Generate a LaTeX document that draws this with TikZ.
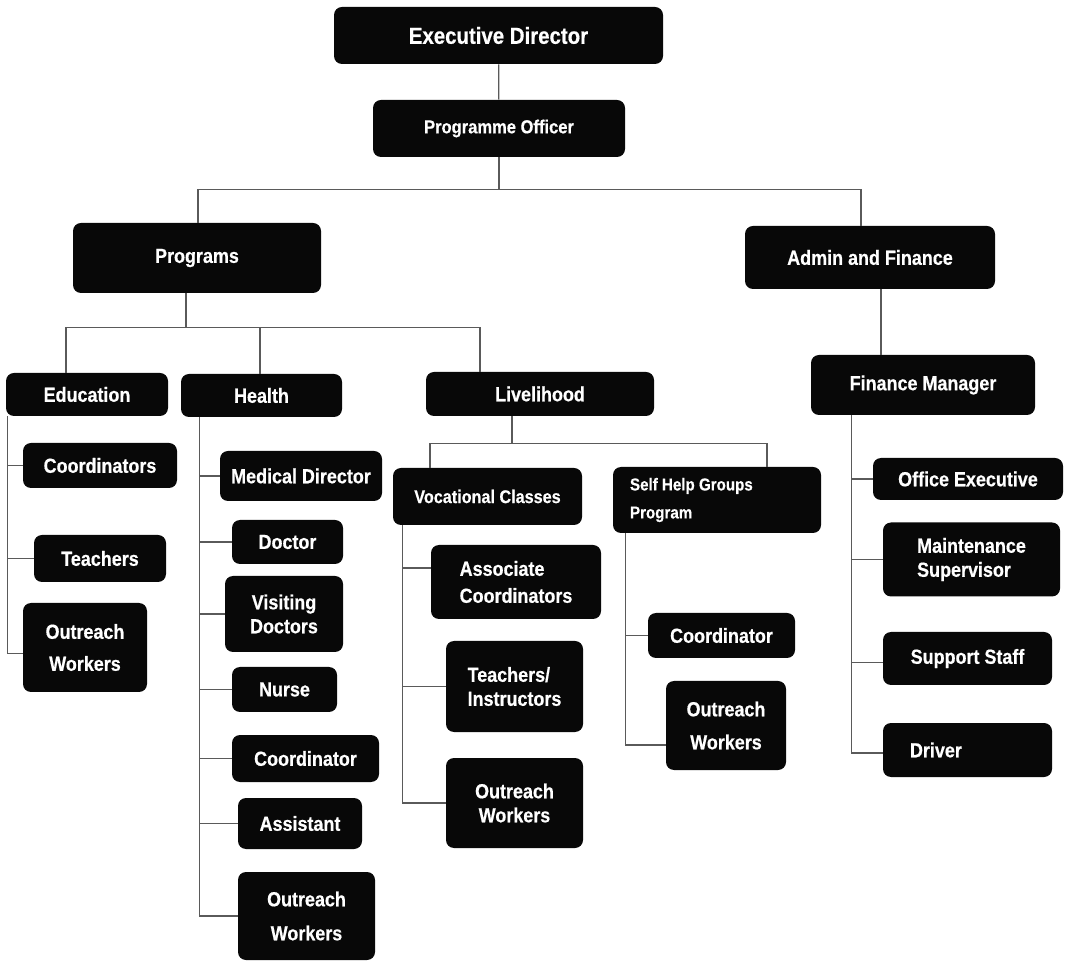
\documentclass[tikz,border=0pt]{standalone}
\usepackage{fontspec}
\setmainfont[FakeStretch=0.88, BoldFeatures={FakeBold=0.5}]{Liberation Sans}
\definecolor{orgBox}{HTML}{080808}
\definecolor{orgLine}{HTML}{5A5A5A}
\usepackage{tikz}
\usetikzlibrary{calc,positioning}

\begin{document}
\begin{tikzpicture}[x=0.5pt, y=-0.5pt,
    orgbox/.style={fill=orgBox, text=white, rounded corners=4pt, inner sep=2pt,
      font=\bfseries\fontsize{10.2}{12}\selectfont, align=center},
    leading/.style={font=\bfseries\fontsize{10.2}{#1}\selectfont},
    orgline/.style={draw=orgLine, line width=0.6pt}]
  \useasboundingbox (0,0) rectangle (1065,961);

  % Top of the chart
  \node[orgbox, minimum width=164.5pt, minimum height=28.5pt,
    font=\bfseries\fontsize{11.6}{14}\selectfont] (exec) at (498.5,35.5) {Executive Director};
  \node[orgbox, minimum width=126pt, minimum height=28.5pt,
    font=\bfseries\fontsize{9.4}{12}\selectfont] (progOff) at (499,128.5) {Programme Officer};

  % Second level
  \node[orgbox, minimum width=124pt, minimum height=35pt] (programs) at (197,258) {Programs};
  \node[orgbox, minimum width=125pt, minimum height=31.5pt] (admin) at (870,257.5) {Admin and Finance};

  % Programs branches
  \node[orgbox, minimum width=81pt, minimum height=21.5pt] (education) at (87,394.5) {Education};
  \node[orgbox, minimum width=80.5pt, minimum height=21.5pt] (health) at (261.5,395.5) {Health};
  \node[orgbox, minimum width=114pt, minimum height=22pt] (livelihood) at (540,394) {Livelihood};

  % Education staff
  \node[orgbox, minimum width=77pt, minimum height=22.5pt] (eduCoord) at (100,465.5) {Coordinators};
  \node[orgbox, minimum width=66pt, minimum height=23.5pt] (eduTeach) at (100,558.5) {Teachers};
  \node[orgbox, leading=16, minimum width=62pt, minimum height=44.5pt] (eduOutreach) at (85,647.5) {Outreach\\Workers};

  % Health staff
  \node[orgbox, minimum width=81pt, minimum height=25pt] (medDir) at (301,476) {Medical Director};
  \node[orgbox, minimum width=55.5pt, minimum height=22pt] (doctor) at (287.5,542) {Doctor};
  \node[orgbox, leading=12, minimum width=59pt, minimum height=38pt] (visiting) at (284,614) {Visiting\\Doctors};
  \node[orgbox, minimum width=52.5pt, minimum height=22.5pt] (nurse) at (284.5,689.5) {Nurse};
  \node[orgbox, minimum width=73.5pt, minimum height=23.5pt] (hCoord) at (305.5,758.5) {Coordinator};
  \node[orgbox, minimum width=62pt, minimum height=25.5pt] (assistant) at (300,823.5) {Assistant};
  \node[orgbox, leading=17, minimum width=68.5pt, minimum height=44pt] (hOutreach) at (306.5,916) {Outreach\\Workers};

  % Livelihood units
  \node[orgbox, minimum width=94.5pt, minimum height=28.5pt,
    font=\bfseries\fontsize{9.2}{12}\selectfont] (vocational) at (487.5,496.5) {Vocational Classes};
  \node[orgbox, font=\bfseries\fontsize{8.6}{14}\selectfont, align=flush left,
    inner xsep=8.5pt, text width=87pt, minimum height=33pt] (selfHelp) at (717,500) {Self Help Groups\\Program};

  % Vocational staff
  \node[orgbox, leading=13.5, align=flush left, minimum width=85pt, minimum height=37pt] (assocCoord) at (516,582) {Associate\\Coordinators};
  \node[orgbox, leading=12, align=flush left, minimum width=68.5pt, minimum height=45.5pt] (teachInstr) at (514.5,686.5) {Teachers/\\Instructors};
  \node[orgbox, leading=12, minimum width=68.5pt, minimum height=45pt] (lOutreach) at (514.5,803) {Outreach\\Workers};

  % Self help staff
  \node[orgbox, minimum width=73.5pt, minimum height=22.5pt] (shCoord) at (721.5,635.5) {Coordinator};
  \node[orgbox, leading=16.5, minimum width=60pt, minimum height=44.5pt] (shOutreach) at (726,725.5) {Outreach\\Workers};

  % Admin and finance staff
  \node[orgbox, minimum width=112pt, minimum height=30pt] (finMgr) at (923,385) {Finance Manager};
  \node[orgbox, minimum width=95pt, minimum height=21pt] (officeExec) at (968,479) {Office Executive};
  \node[orgbox, leading=12, align=flush left, minimum width=88.5pt, minimum height=37pt] (maint) at (971.5,559.5) {Maintenance\\Supervisor};
  \node[orgbox, minimum width=84.5pt, minimum height=26.5pt] (support) at (967.5,658.5) {Support Staff};
  \node[orgbox, align=flush left, inner xsep=13.5pt, text width=57.5pt, minimum height=27pt] (driver) at (967.5,750) {Driver};

  % Connectors at the top
  \draw[orgline] (exec) -- (progOff);
  \draw[orgline] (progOff.south) -- ++(0,32) coordinate (forkTop);
  \draw[orgline] ([xshift=0.5pt]programs.north) |- (forkTop) -| ([xshift=-4.5pt]admin.north);

  % Programs fork
  \draw[orgline] ([xshift=-5.5pt]programs.south) -- ++(0,34) coordinate (forkProg);
  \draw[orgline] ([xshift=-10.5pt]education.north) |- (forkProg) -| ([xshift=-30pt]livelihood.north);
  \draw[orgline] ([xshift=-0.75pt]health.north) -- ([xshift=-0.75pt]health.north |- forkProg);

  % Livelihood fork
  \draw[orgline] ([xshift=-14pt]livelihood.south) -- ++(0,27) coordinate (forkLiv);
  \draw[orgline] ([xshift=-28.75pt]vocational.north) |- (forkLiv) -| ([xshift=25pt]selfHelp.north);

  % Education spine
  \foreach \c in {eduCoord,eduTeach}
    \draw[orgline] ([xshift=1pt]education.south west) |- (\c.west);
  \draw[orgline] ([xshift=1pt]education.south west) |- ([yshift=-3pt]eduOutreach.west);

  % Health spine
  \foreach \c in {medDir,doctor,visiting,nurse,hCoord,assistant,hOutreach}
    \draw[orgline] ([xshift=9.5pt]health.south west) |- (\c.west);

  % Vocational spine
  \draw[orgline] ([xshift=5pt]vocational.south west) |- ([yshift=7pt]assocCoord.west);
  \foreach \c in {teachInstr,lOutreach}
    \draw[orgline] ([xshift=5pt]vocational.south west) |- (\c.west);

  % Self help spine
  \draw[orgline] ([xshift=6.5pt]selfHelp.south west) |- (shCoord.west);
  \draw[orgline] ([xshift=6.5pt]selfHelp.south west) |- ([yshift=-9.75pt]shOutreach.west);

  % Admin and finance
  \draw[orgline] ([xshift=5.5pt]admin.south) -- ([xshift=5.5pt]admin.south |- finMgr.north);
  \foreach \c in {officeExec,maint}
    \draw[orgline] ([xshift=20.5pt]finMgr.south west) |- (\c.west);
  \draw[orgline] ([xshift=20.5pt]finMgr.south west) |- ([yshift=-2pt]support.west);
  \draw[orgline] ([xshift=20.5pt]finMgr.south west) |- ([yshift=-1.5pt]driver.west);

\end{tikzpicture}
\end{document}
